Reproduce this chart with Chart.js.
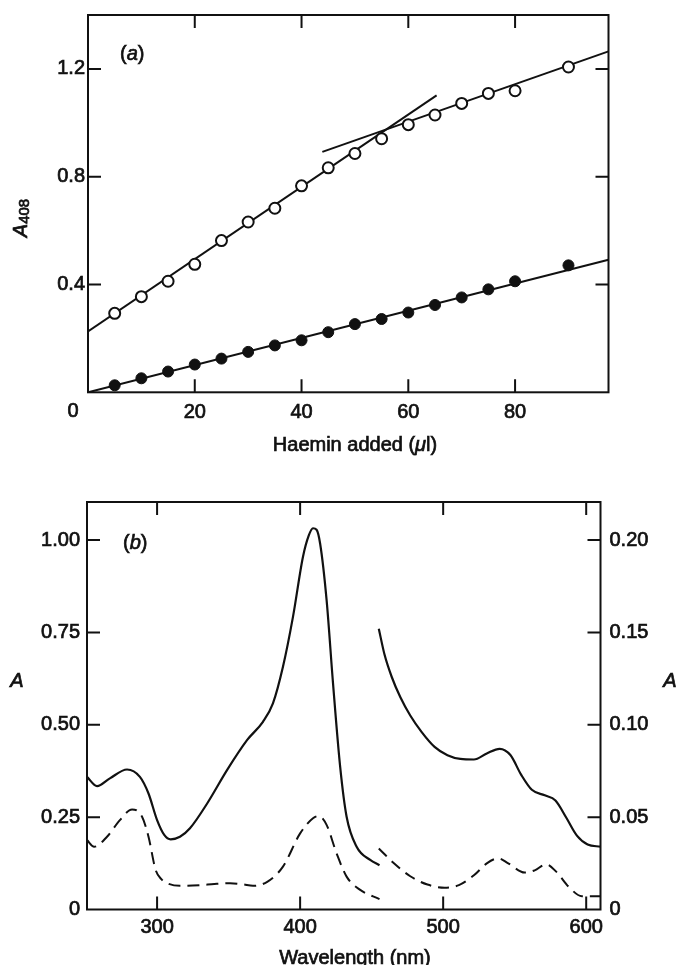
<!DOCTYPE html>
<html>
<head>
<meta charset="utf-8">
<script src="https://cdn.jsdelivr.net/npm/chart.js@4.4.1/dist/chart.umd.min.js"></script>
<style>
html, body { margin: 0; padding: 0; background: #fff; overflow: hidden; width: 676px; height: 965px; }
canvas { position: absolute; left: 0; }
#chartA { top: 0; }
#chartB { top: 470px; }
</style>
</head>
<body>
<canvas id="chartA" width="676" height="460"></canvas>
<canvas id="chartB" width="676" height="505"></canvas>
<script>
// ---- panel (a): A408 vs haemin added
const haeminAdded = [5, 10, 15, 20, 25, 30, 35, 40, 45, 50, 55, 60, 65, 70, 75, 80, 90]
const openA408 = [0.293, 0.355, 0.412, 0.475, 0.563, 0.632, 0.683, 0.766, 0.833, 0.886, 0.941, 0.993, 1.029, 1.072, 1.109, 1.119, 1.207]
const filledA408 = [0.026, 0.052, 0.077, 0.103, 0.125, 0.150, 0.174, 0.193, 0.223, 0.253, 0.272, 0.296, 0.324, 0.352, 0.382, 0.412, 0.471]
const steepFitX = [0, 65.3]
const steepFitY = [0.226, 1.102]
const shallowFitX = [43.9, 97.5]
const shallowFitY = [0.892, 1.265]
const filledFitX = [0, 97.5]
const filledFitY = [0, 0.492]

// ---- panel (b): spectra, left axis (250-455 nm) and right axis (455-610 nm)
const soretWl = [251, 258, 267, 279, 288, 294, 300, 305, 309.5, 316, 323, 335, 349, 363, 374, 381, 388, 395, 402, 406, 409, 411.5, 414, 418.5, 423, 428, 432.5, 439.5, 449, 455.5]
const soretSolid = [0.359, 0.334, 0.355, 0.379, 0.359, 0.314, 0.242, 0.202, 0.190, 0.197, 0.220, 0.287, 0.378, 0.459, 0.508, 0.558, 0.657, 0.792, 0.955, 1.012, 1.032, 1.028, 0.990, 0.838, 0.612, 0.386, 0.251, 0.170, 0.134, 0.120]
const soretDashWl = [251, 256, 265, 274, 282.5, 289.5, 294, 299, 303, 307, 316, 330, 340, 351, 360, 367, 377, 388, 400, 409, 413, 418.5, 425.5, 432.5, 442, 455.5]
const soretDash = [0.188, 0.170, 0.197, 0.242, 0.271, 0.251, 0.197, 0.107, 0.082, 0.071, 0.064, 0.066, 0.069, 0.071, 0.068, 0.064, 0.075, 0.116, 0.206, 0.247, 0.253, 0.229, 0.152, 0.089, 0.053, 0.028]
const visWl = [455, 459, 464, 470, 477, 485, 494, 503, 512, 521.5, 530.5, 539.5, 547, 554.5, 562, 571, 578.5, 586, 593.5, 601, 610]
const visSolid = [0.152, 0.138, 0.126, 0.115, 0.105, 0.096, 0.088, 0.0835, 0.0815, 0.0812, 0.0845, 0.0870, 0.0836, 0.0730, 0.0648, 0.0618, 0.0590, 0.0498, 0.0400, 0.0352, 0.0340]
const visDashWl = [455, 465, 477, 489, 501, 511, 521.5, 530.5, 538.5, 545.5, 557, 564, 572, 579, 588, 597, 610]
const visDash = [0.033, 0.0255, 0.018, 0.0135, 0.0118, 0.0132, 0.0185, 0.0250, 0.0277, 0.0250, 0.0200, 0.0212, 0.0245, 0.0205, 0.0121, 0.0072, 0.0072]

const FAM = '"Liberation Sans", Arial, sans-serif'
const ink = '#111'
const reg = '20px ' + FAM
const ital = 'italic 20px ' + FAM

function pts(xs, ys) {
    return xs.map((x, i) => ({x: x, y: ys[i]}))
}

// text in pieces so that single letters can be italic; a thin stroke thickens it like the print
function drawParts(ctx, parts, x, y, align) {
    let w = 0
    parts.forEach(p => { ctx.font = p.font; w += ctx.measureText(p.text).width })
    let cx = align === 'center' ? x - w / 2 : x
    ctx.textAlign = 'left'
    ctx.textBaseline = 'alphabetic'
    ctx.strokeStyle = ink
    ctx.lineWidth = 0.7
    parts.forEach(p => {
        ctx.font = p.font
        ctx.fillText(p.text, cx, y + (p.dy || 0))
        ctx.strokeText(p.text, cx, y + (p.dy || 0))
        cx += ctx.measureText(p.text).width
    })
}

// box round the plot and inward tick marks on all four sides
const frame = {
    id: 'frame',
    afterDraw(chart) {
        const ctx = chart.ctx
        const a = chart.chartArea
        const t = 13
        ctx.save()
        ctx.strokeStyle = ink
        ctx.lineWidth = 2
        ctx.strokeRect(a.left, a.top, a.right - a.left, a.bottom - a.top)
        ctx.beginPath()
        const sx = chart.scales.x
        sx.ticks.forEach(tk => {
            const px = sx.getPixelForValue(tk.value)
            if (px <= a.left + 1 || px >= a.right - 1) return
            ctx.moveTo(px, a.bottom)
            ctx.lineTo(px, a.bottom - t)
            ctx.moveTo(px, a.top)
            ctx.lineTo(px, a.top + t)
        })
        const sy = chart.scales.y
        sy.ticks.forEach(tk => {
            const py = sy.getPixelForValue(tk.value)
            if (py >= a.bottom - 1 || py <= a.top + 1) return
            ctx.moveTo(a.left, py)
            ctx.lineTo(a.left + t, py)
            ctx.moveTo(a.right, py)
            ctx.lineTo(a.right - t, py)
        })
        ctx.stroke()
        ctx.restore()
    }
}

const labelsA = {
    id: 'labelsA',
    afterDraw(chart) {
        const ctx = chart.ctx
        const a = chart.chartArea
        ctx.save()
        ctx.fillStyle = ink
        drawParts(ctx, [{text: '(', font: reg}, {text: 'a', font: ital}, {text: ')', font: reg}], a.left + 32, a.top + 45, 'left')
        drawParts(ctx, [{text: '0', font: reg}], chart.scales.x.getPixelForValue(0) - 15, 417, 'center')
        drawParts(ctx, [{text: 'Haemin added (', font: reg}, {text: 'μ', font: ital}, {text: 'l)', font: reg}], 355, 451, 'center')
        ctx.translate(27, 218)
        ctx.rotate(-Math.PI / 2)
        drawParts(ctx, [{text: 'A', font: ital}, {text: '408', font: '15px ' + FAM, dy: 2}], 0, 0, 'center')
        ctx.restore()
    }
}

const labelsB = {
    id: 'labelsB',
    afterDraw(chart) {
        const ctx = chart.ctx
        const a = chart.chartArea
        ctx.save()
        ctx.fillStyle = ink
        drawParts(ctx, [{text: '(', font: reg}, {text: 'b', font: ital}, {text: ')', font: reg}], a.left + 36, a.top + 47, 'left')
        drawParts(ctx, [{text: 'A', font: ital}], 17, 217, 'center')
        drawParts(ctx, [{text: 'A', font: ital}], 670, 217, 'center')
        drawParts(ctx, [{text: 'Wavelength (nm)', font: reg}], 355, 494, 'center')
        ctx.restore()
    }
}

const tickFont = {family: FAM, size: 20}
const noGrid = {display: false, drawTicks: false}
const tickStyle = {color: ink, font: tickFont, textStrokeColor: ink, textStrokeWidth: 0.7, maxRotation: 0}

new Chart(document.getElementById('chartA'), {
    type: 'scatter',
    data: {
        datasets: [
            {data: pts(haeminAdded, openA408), pointRadius: 5.5, backgroundColor: '#fff', borderColor: ink, borderWidth: 2, showLine: false},
            {data: pts(haeminAdded, filledA408), pointRadius: 5.5, backgroundColor: ink, borderColor: ink, borderWidth: 1, showLine: false},
            {data: pts(steepFitX, steepFitY), showLine: true, pointRadius: 0, borderColor: ink, borderWidth: 2},
            {data: pts(shallowFitX, shallowFitY), showLine: true, pointRadius: 0, borderColor: ink, borderWidth: 2},
            {data: pts(filledFitX, filledFitY), showLine: true, pointRadius: 0, borderColor: ink, borderWidth: 2}
        ]
    },
    options: {
        responsive: false,
        animation: false,
        devicePixelRatio: 1,
        events: [],
        layout: {padding: {top: 14, right: 67.5, left: 0, bottom: 0}},
        plugins: {legend: {display: false}, tooltip: {enabled: false}},
        scales: {
            x: {
                type: 'linear', min: 0, max: 97.5,
                grid: noGrid, border: {display: false},
                ticks: {...tickStyle, stepSize: 20, includeBounds: false, padding: 8,
                    callback: v => v === 0 ? '' : String(v)},
                afterFit: s => { s.height = 67.7 }
            },
            y: {
                type: 'linear', min: 0, max: 1.4,
                grid: noGrid, border: {display: false},
                ticks: {...tickStyle, stepSize: 0.4, includeBounds: false, padding: 3,
                    callback: v => v === 0 ? '' : Number(v).toFixed(1)},
                afterFit: s => { s.width = 88 }
            }
        }
    },
    plugins: [frame, labelsA]
})

new Chart(document.getElementById('chartB'), {
    type: 'line',
    data: {
        datasets: [
            {data: pts(soretWl, soretSolid), yAxisID: 'y', borderColor: ink, borderWidth: 2.2, pointRadius: 0, cubicInterpolationMode: 'monotone'},
            {data: pts(soretDashWl, soretDash), yAxisID: 'y', borderColor: ink, borderWidth: 2, borderDash: [12, 7], pointRadius: 0, cubicInterpolationMode: 'monotone'},
            {data: pts(visWl, visSolid), yAxisID: 'y2', borderColor: ink, borderWidth: 2.2, pointRadius: 0, cubicInterpolationMode: 'monotone'},
            {data: pts(visDashWl, visDash), yAxisID: 'y2', borderColor: ink, borderWidth: 2, borderDash: [11, 7], pointRadius: 0, cubicInterpolationMode: 'monotone'}
        ]
    },
    options: {
        responsive: false,
        animation: false,
        devicePixelRatio: 1,
        events: [],
        layout: {padding: {top: 32, right: 0, left: 0, bottom: 0}},
        plugins: {legend: {display: false}, tooltip: {enabled: false}},
        scales: {
            x: {
                type: 'linear', min: 251, max: 610,
                grid: noGrid, border: {display: false},
                ticks: {...tickStyle, stepSize: 100, includeBounds: false, padding: 6},
                afterFit: s => { s.height = 65.5 }
            },
            y: {
                type: 'linear', position: 'left', min: 0, max: 1.103,
                grid: noGrid, border: {display: false},
                ticks: {...tickStyle, stepSize: 0.25, includeBounds: false, padding: 7,
                    callback: v => v === 0 ? '0' : Number(v).toFixed(2)},
                afterFit: s => { s.width = 87 }
            },
            y2: {
                type: 'linear', position: 'right', min: 0, max: 0.2206,
                grid: noGrid, border: {display: false},
                ticks: {...tickStyle, stepSize: 0.05, includeBounds: false, padding: 9,
                    callback: v => v === 0 ? '0' : Number(v).toFixed(2)},
                afterFit: s => { s.width = 75.5 }
            }
        }
    },
    plugins: [frame, labelsB]
})
</script>
</body>
</html>
